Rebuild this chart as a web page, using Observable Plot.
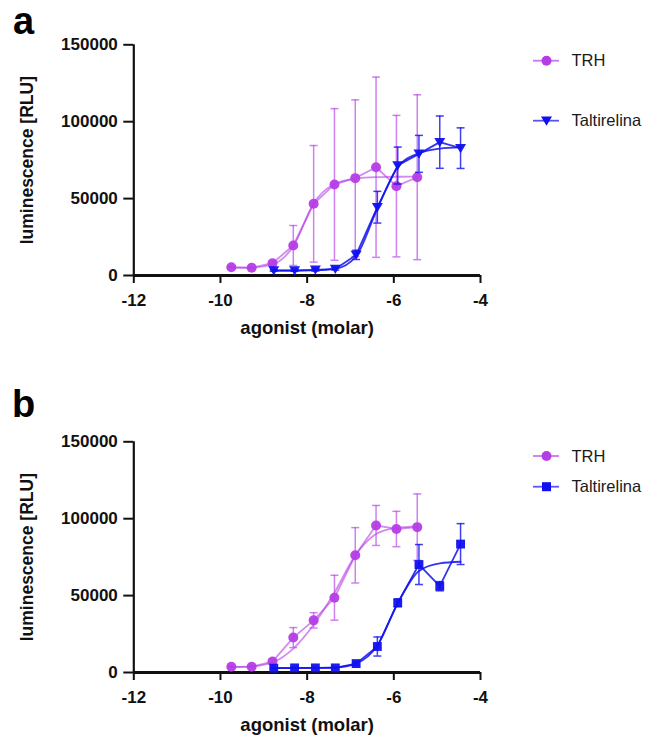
<!DOCTYPE html>
<html><head><meta charset="utf-8">
<script src="https://cdn.jsdelivr.net/npm/d3@7"></script>
<script src="https://cdn.jsdelivr.net/npm/@observablehq/plot@0.6"></script>
<style>
html,body{margin:0;padding:0;background:#fff;}
#root{position:relative;width:651px;height:735px;overflow:hidden;font-family:"Liberation Sans",Arial,sans-serif;}
.panel{position:absolute;left:0;}
#overlay{position:absolute;left:0;top:0;}
</style></head><body><div id="root"></div>
<script>
// ---- data ----
const xTicks = [-12, -10, -8, -6, -4];
const yTicks = [0, 50000, 100000, 150000];
const seriesNames = ["TRH", "Taltirelina"];
const xLabel = "agonist (molar)";
const yLabel = "luminescence [RLU]";

const logTRH  = [-9.75, -9.28, -8.80, -8.32, -7.85, -7.37, -6.89, -6.41, -5.94, -5.46];
const logTalt = [-8.77, -8.29, -7.81, -7.35, -6.87, -6.38, -5.91, -5.42, -4.94, -4.46];

// panel a
const aTRHmean  = [5400, 5000, 8000, 19500, 46600, 59200, 63300, 70400, 58100, 63900];
const aTRHsd    = [500, 500, 1500, 13000, 37900, 49300, 50900, 58600, 46000, 53600];
const aTRHfit   = [5000, 5100, 7200, 19000, 47000, 59500, 63000, 64000, 64200, 64300];
const aTaltMean = [3250, 3250, 3700, 4300, 13400, 44400, 71500, 79100, 86700, 82800];
const aTaltSd   = [500, 500, 800, 800, 3000, 10300, 12000, 12000, 17000, 13200];
const aTaltFit  = [3200, 3200, 3300, 4300, 12500, 43500, 70500, 79500, 82500, 83300];

// panel b
const bTRHmean  = [3700, 3700, 7100, 22700, 33900, 48600, 76200, 95600, 93300, 94500];
const bTRHsd    = [500, 500, 1500, 6500, 5000, 14600, 18000, 13000, 11500, 21600];
const bTRHfit   = [3600, 4000, 6500, 15500, 31000, 52000, 76000, 90000, 94000, 95000];
const bTaltMean = [2800, 3000, 3000, 3000, 5800, 16900, 45300, 70200, 56100, 83500];
const bTaltSd   = [400, 400, 400, 400, 1000, 6200, 2500, 13000, 3000, 13300];
const bTaltFit  = [2900, 2900, 3000, 3300, 5800, 17500, 45000, 66000, 71000, 72000];

const colTRH = "#b53de6";
const colTalt = "#1010f0";

// ---- helpers ----
function rows(xs, mean, sd, fit) {
  return xs.map((x, i) => ({x, mean: mean[i], lo: mean[i] - sd[i], hi: mean[i] + sd[i], fit: fit[i]}));
}
const capSymbol = {draw(ctx) { ctx.moveTo(-4, 0); ctx.lineTo(4, 0); }};
const triDown = {draw(ctx, size) {
  const r = Math.sqrt(size / Math.PI);
  ctx.moveTo(-r * 1.1, -r * 0.85); ctx.lineTo(r * 1.1, -r * 0.85); ctx.lineTo(0, r * 1.0); ctx.closePath();
}};

function seriesMarks(data, color, symbol, r, lineOpacity, barOpacity) {
  return [
    Plot.ruleX(data, {x: "x", y1: "lo", y2: "hi", stroke: color, strokeWidth: 1.5, strokeOpacity: barOpacity}),
    Plot.dot(data, {x: "x", y: "hi", symbol: capSymbol, stroke: color, strokeWidth: 1.5, strokeOpacity: barOpacity, fill: "none"}),
    Plot.dot(data, {x: "x", y: "lo", symbol: capSymbol, stroke: color, strokeWidth: 1.5, strokeOpacity: barOpacity, fill: "none"}),
    Plot.line(data, {x: "x", y: "mean", stroke: color, strokeWidth: 1.8, strokeOpacity: lineOpacity}),
    Plot.line(data, {x: "x", y: "fit", curve: "monotone-x", stroke: color, strokeWidth: 1.8, strokeOpacity: lineOpacity}),
    Plot.dot(data, {x: "x", y: "mean", symbol, r, fill: color, stroke: "none", fillOpacity: 0.95})
  ];
}

function panel(trh, talt, taltSymbol, taltR) {
  return Plot.plot({
    width: 651, height: 340,
    marginTop: 44.3, marginBottom: 65, marginLeft: 133.3, marginRight: 171,
    x: {domain: [-12, -4]},
    y: {domain: [0, 150000]},
    style: {fontFamily: '"Liberation Sans", Arial, sans-serif', fontSize: "17px", fontWeight: "bold", color: "#111", background: "transparent", overflow: "visible"},
    marks: [
      Plot.axisX({ticks: xTicks, tickSize: 8, tickPadding: 10, strokeWidth: 2, label: null, tickFormat: d => String(d)}),
      Plot.axisY({ticks: yTicks, tickSize: 10, tickPadding: 6, strokeWidth: 2, label: null, tickFormat: d3.format("d")}),
      Plot.ruleX([-12], {y1: 0, y2: 150000, stroke: "#111", strokeWidth: 2.2}),
      Plot.ruleY([0], {x1: -12, x2: -4, stroke: "#111", strokeWidth: 3}),
      ...seriesMarks(trh, colTRH, "circle", 5, 0.6, 0.65),
      ...seriesMarks(talt, colTalt, taltSymbol, taltR, 0.85, 0.8),
      Plot.text([xLabel], {frameAnchor: "bottom", textAnchor: "middle", lineAnchor: "bottom", dy: 58, fontSize: 18.5, fontWeight: "bold", fill: "#111"}),
      Plot.text([yLabel], {frameAnchor: "left", rotate: -90, textAnchor: "middle", lineAnchor: "middle", dx: -106, fontSize: 17.5, fontWeight: "bold", fill: "#111"})
    ]
  });
}

const root = document.getElementById("root");
const pa = panel(rows(logTRH, aTRHmean, aTRHsd, aTRHfit), rows(logTalt, aTaltMean, aTaltSd, aTaltFit), triDown, 5);
pa.classList.add("panel"); pa.style.top = "0px";
const pb = panel(rows(logTRH, bTRHmean, bTRHsd, bTRHfit), rows(logTalt, bTaltMean, bTaltSd, bTaltFit), "square", 5);
pb.classList.add("panel"); pb.style.top = "396.5px";
root.appendChild(pa); root.appendChild(pb);

// ---- overlay: panel letters and legends ----
const ns = "http://www.w3.org/2000/svg";
const ov = document.createElementNS(ns, "svg");
ov.setAttribute("id", "overlay"); ov.setAttribute("width", 651); ov.setAttribute("height", 735);
root.appendChild(ov);
function el(tag, attrs, text) {
  const e = document.createElementNS(ns, tag);
  for (const k in attrs) e.setAttribute(k, attrs[k]);
  if (text != null) e.textContent = text;
  ov.appendChild(e); return e;
}
const ff = '"Liberation Sans", Arial, sans-serif';
el("text", {x: 13, y: 33.5, "font-family": ff, "font-size": 38, "font-weight": "bold", fill: "#000"}, "a");
el("text", {x: 12, y: 416.7, "font-family": ff, "font-size": 38, "font-weight": "bold", fill: "#000"}, "b");

function legendItem(y, name, color, kind) {
  el("line", {x1: 533, x2: 559, y1: y, y2: y, stroke: color, "stroke-width": 1.8, "stroke-opacity": 0.7});
  if (kind === "circle") el("circle", {cx: 546.5, cy: y, r: 5, fill: color});
  else if (kind === "tri") el("path", {d: `M${546.5-5.5},${y-4.2}L${546.5+5.5},${y-4.2}L546.5,${y+5}Z`, fill: color});
  else el("rect", {x: 546.5 - 4.5, y: y - 4.5, width: 9, height: 9, fill: color});
  el("text", {x: 571.5, y: y, dy: "0.35em", "font-family": ff, "font-size": 16.5, fill: "#1a1a1a"}, name);
}
legendItem(60.7, seriesNames[0], colTRH, "circle");
legendItem(120.7, seriesNames[1], colTalt, "tri");
legendItem(456, seriesNames[0], colTRH, "circle");
legendItem(486.7, seriesNames[1], colTalt, "square");
</script></body></html>
